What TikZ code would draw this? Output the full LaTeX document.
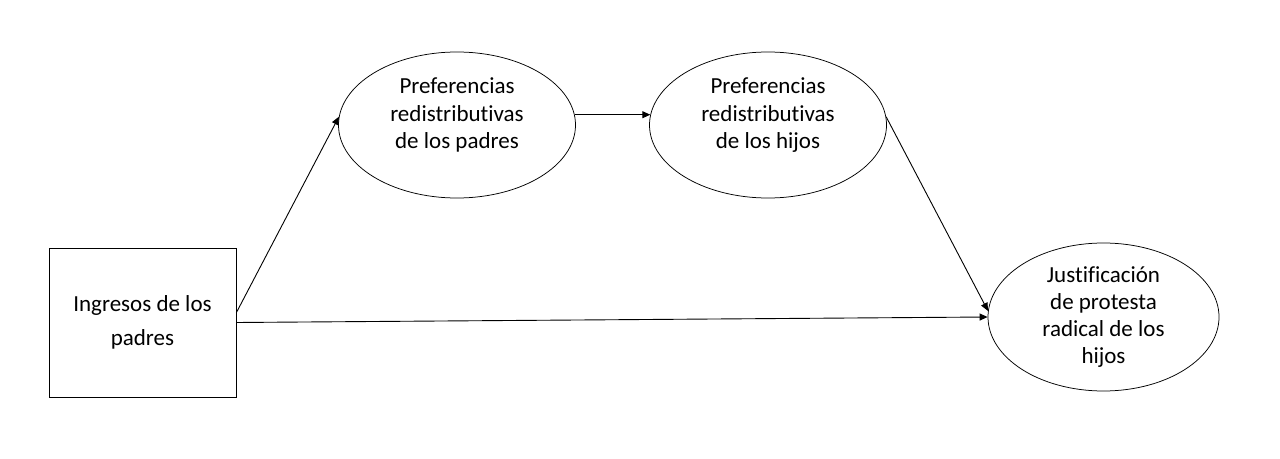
\documentclass[tikz,border=0pt]{standalone}
\usepackage{fontspec}
\setmainfont{Carlito}[Ligatures={NoCommon,NoContextual}]
\usetikzlibrary{shapes.geometric,arrows.meta}

\begin{document}
\begin{tikzpicture}[
  x=1pt, y=1pt,
  font=\fontsize{23}{27.5}\selectfont,
  var/.style={draw, ellipse, line width=0.75pt, align=center, inner sep=0pt, minimum width=237pt, minimum height=146pt},
  obs/.style={draw, rectangle, line width=0.75pt, align=center, minimum width=187pt, minimum height=149pt},
  arr/.style={-{Triangle[length=8pt,width=7pt]}, line width=0.9pt}
]
\useasboundingbox (0,0) rectangle (1280,458);
\node[obs] (ingreso) at (142.5,135.5) {Ingresos de los\\[6pt] padres};
\node[var] (prefpad) at (457,333) {Preferencias\\ redistributivas\\ de los padres\\[-4pt]\mbox{}};
\node[var] (prefhij) at (768,333) {Preferencias\\ redistributivas\\ de los hijos\\[-4pt]\mbox{}};
\node[var, minimum width=231pt, minimum height=148pt, font=\fontsize{23}{27}\selectfont] (protesta) at (1103.5,141) {Justificación\\ de protesta\\ radical de los\\ hijos};
\draw[arr] (ingreso.6) -- (prefpad.176.6);
\draw[arr] (prefpad.5) -- (prefhij.175);
\draw[arr] (prefhij.4.8) -- (protesta.177.5);
\draw[arr] (ingreso.east) -- (protesta.180);
\end{tikzpicture}
\end{document}
